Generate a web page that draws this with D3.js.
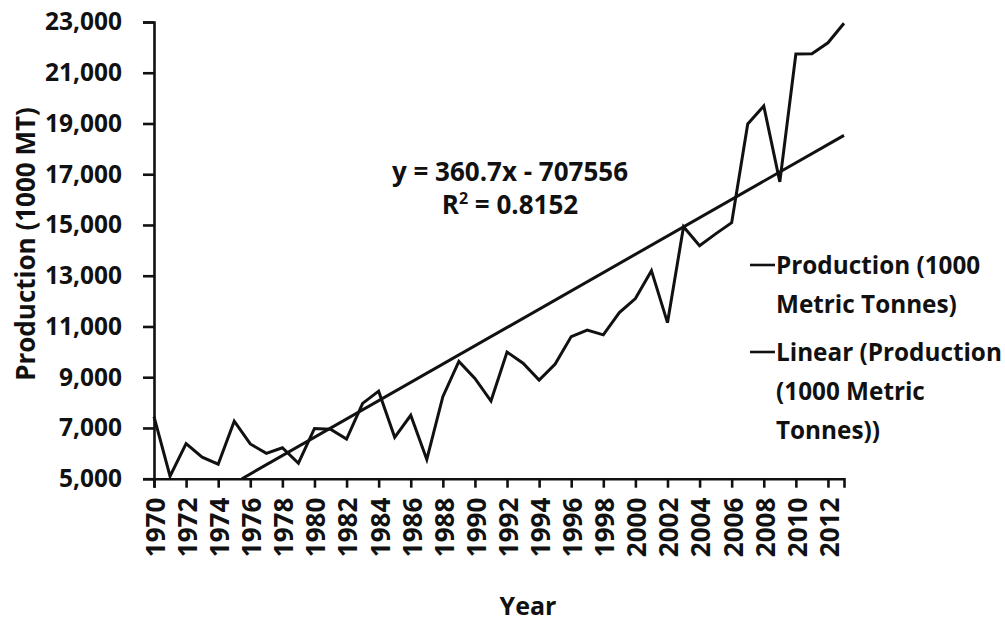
<!DOCTYPE html>
<html>
<head>
<meta charset="utf-8">
<script src="https://cdn.jsdelivr.net/npm/d3@7"></script>
<style>
  html, body { margin: 0; padding: 0; background: #fff; }
  svg { display: block; }
  text { font-family: "Open Sans", "DejaVu Sans", sans-serif; font-weight: 700; fill: #111; }
</style>
</head>
<body>
<svg id="chart" width="1005" height="624"></svg>
<script>
// Annual production, 1000 metric tonnes
const years = d3.range(1970, 2014);
const production = [
  7450, 5100, 6380, 5850, 5570, 7270, 6370, 6000, 6220, 5610,
  6980, 6950, 6560, 7970, 8450, 6630, 7500, 5760, 8230, 9620,
  8950, 8060, 9990, 9550, 8890, 9520, 10600, 10860, 10670, 11550,
  12100, 13200, 11150, 14930, 14180, 14650, 15090, 18980, 19690, 16700,
  21740, 21750, 22180, 22950
];

// Least-squares trend: y = slope * year + intercept
const trendSlope = 360.7;
const trendIntercept = -707556;
const trendR2 = 0.8152;

const yTicks = [5000, 7000, 9000, 11000, 13000, 15000, 17000, 19000, 21000, 23000];
const xTicks = d3.range(1970, 2013, 2);

const legendLines = [
  ["Production (1000", "Metric Tonnes)"],
  ["Linear (Production", "(1000 Metric", "Tonnes))"]
];

const svg = d3.select("#chart");
const plotLeft = 154, plotRight = 844, plotTop = 22, plotBottom = 478.7;
const ink = "#111";

const x = d3.scaleLinear().domain([1970, 2013]).range([plotLeft, plotRight]);
const y = d3.scaleLinear().domain([5000, 23000]).range([plotBottom, plotTop]);

// Y axis
const yAxis = svg.append("g")
  .attr("transform", `translate(${plotLeft},0)`)
  .call(d3.axisLeft(y).tickValues(yTicks).tickSize(11).tickPadding(21)
    .tickFormat(d3.format(",")));
yAxis.selectAll("text").style("font-size", "24.5px");

// X axis
const xAxis = svg.append("g")
  .attr("transform", `translate(0,${plotBottom})`)
  .call(d3.axisBottom(x).tickValues(xTicks).tickSize(9).tickPadding(0)
    .tickFormat(d3.format("d")));
xAxis.selectAll("text")
  .style("font-size", "26px")
  .attr("text-anchor", "end")
  .attr("dy", "0.36em")
  .attr("transform", "translate(1,19) rotate(-90)")
  .attr("x", 0).attr("y", 0);

svg.selectAll(".domain, .tick line")
  .attr("stroke", ink).attr("stroke-width", 2.6);

// Production series
const line = d3.line().x((d, i) => x(years[i])).y(d => y(d));
svg.append("path")
  .datum(production)
  .attr("fill", "none")
  .attr("stroke", ink)
  .attr("stroke-width", 3)
  .attr("stroke-linejoin", "miter")
  .attr("d", line);

// Linear trend, clipped at the bottom of the value axis
const trendAt = yr => trendSlope * yr + trendIntercept;
const trendStart = Math.max(1970, (y.domain()[0] - trendIntercept) / trendSlope);
const trendPts = [trendStart, 2013];
svg.append("path")
  .datum(trendPts)
  .attr("fill", "none")
  .attr("stroke", ink)
  .attr("stroke-width", 3)
  .attr("d", d3.line().x(d => x(d)).y(d => y(trendAt(d))));

// Trend equation
const eq = svg.append("g").attr("text-anchor", "middle").style("font-size", "26px");
eq.append("text").attr("x", 510).attr("y", 181)
  .text(`y = ${trendSlope}x - ${Math.abs(trendIntercept)}`);
const r2 = eq.append("text").attr("x", 510).attr("y", 214);
r2.append("tspan").text("R");
r2.append("tspan").attr("dy", -10).style("font-size", "16px").text("2");
r2.append("tspan").attr("dy", 10).text(` = ${trendR2}`);

// Axis titles
svg.append("text")
  .attr("transform", "translate(35,244) rotate(-90)")
  .attr("text-anchor", "middle")
  .style("font-size", "26px")
  .text("Production (1000 MT)");
svg.append("text")
  .attr("x", 528).attr("y", 615)
  .attr("text-anchor", "middle")
  .style("font-size", "25px")
  .text("Year");

// Legend
const legend = svg.append("g").style("font-size", "24.3px");
const legendTop = [265, 352];
legendLines.forEach((rows, k) => {
  const yy = legendTop[k];
  legend.append("line")
    .attr("x1", 750).attr("x2", 775)
    .attr("y1", yy).attr("y2", yy)
    .attr("stroke", ink).attr("stroke-width", 2.6);
  rows.forEach((row, j) => {
    legend.append("text")
      .attr("x", 776).attr("y", yy + j * 39)
      .attr("dy", "0.35em")
      .text(row);
  });
});
</script>
</body>
</html>
